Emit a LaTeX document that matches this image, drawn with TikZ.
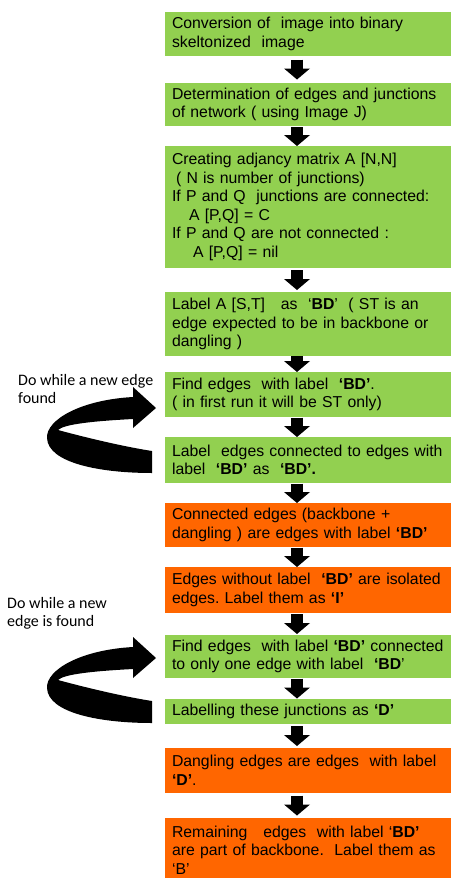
\documentclass[tikz,border=0pt]{standalone}
\usepackage{fontspec}
\setmainfont{Liberation Sans}
\newfontfamily\calibrifont{Carlito}
\usetikzlibrary{arrows.meta}
\pgfdeclarelayer{background}
\pgfsetlayers{background,main}
\definecolor{boxgreen}{HTML}{92D050}
\definecolor{boxorange}{HTML}{FF6600}
\frenchspacing
\tikzset{
  flowbox/.style={draw=none, rectangle, anchor=north west, inner xsep=7pt, inner ysep=0pt, outer sep=0pt,
    minimum width=286pt, text width=272pt, align=left,
    font=\fontsize{15.8pt}{18.6pt}\selectfont},
  greenbox/.style={flowbox, fill=boxgreen},
  orangebox/.style={flowbox, fill=boxorange},
  flowarrow/.style={draw=black, line width=12pt, -{Triangle[length=11pt,width=26pt,line width=0pt]}},
  looplabel/.style={anchor=north west, inner sep=0pt, align=left,
    font=\calibrifont\fontsize{16pt}{18.5pt}\selectfont},
  ribbon/.pic={
    \fill[black] (152,473) .. controls (100,473) and (48,463) .. (47,438)
      .. controls (46,420) and (80,400) .. (133,397)
      -- (133,387) -- (156,408) -- (133,428) -- (133,419)
      .. controls (95,421) and (64,424) .. (58,430)
      .. controls (80,436) and (120,446) .. (152,451) -- cycle;
  }
}
\begin{document}
\begin{tikzpicture}[x=1pt,y=-1pt]
\useasboundingbox (0,0) rectangle (452,878);

\node[greenbox, minimum height=44pt] (b1) at (165,12)
  {Conversion of \ image into binary\\skeltonized \ image};
\node[greenbox, minimum height=43pt] (b2) at (165,83)
  {Determination of edges and junctions\\of network ( using Image J)};
\node[greenbox, minimum height=122pt] (b3) at (165,146)
  {Creating adjancy matrix A [N,N]\\
   \hspace*{4pt}( N is number of junctions)\\
   If P and Q \ junctions are connected:\\
   \hspace*{17pt}A [P,Q] = C\\
   If P and Q are not connected :\\
   \hspace*{21pt}A [P,Q] = nil};
\node[greenbox, minimum height=64pt] (b4) at (165,292)
  {Label A [S,T] \ \ as \ ‘\textbf{BD}’ \ ( ST is an\\edge expected to be in backbone or\\dangling )};
\node[greenbox, minimum height=45pt] (b5) at (165,372)
  {Find edges \ with label \ \textbf{‘BD’}.\\( in first run it will be ST only)};
\node[greenbox, minimum height=46pt] (b6) at (165,437)
  {Label \ edges connected to edges with\\label \ \textbf{‘BD’} as \ \textbf{‘BD’.}};
\node[orangebox, minimum height=44pt] (b7) at (165,503)
  {Connected edges (backbone +\\dangling ) are edges with label \textbf{‘BD’}};
\node[orangebox, minimum height=46pt] (b8) at (165,567)
  {Edges without label \ \textbf{‘BD’} are isolated\\edges. Label them as \textbf{‘I’}};
\node[greenbox, minimum height=43pt] (b9) at (165,635)
  {Find edges \ with label \textbf{‘BD’} connected\\to only one edge with label \ \textbf{‘BD}’};
\node[greenbox, minimum height=25pt] (b10) at (165,699)
  {Labelling these junctions as \textbf{‘D’}};
\node[orangebox, minimum height=45pt] (b11) at (165,748)
  {Dangling edges are edges \ with label\\\textbf{‘D’}.};
\node[orangebox, minimum height=64pt] (b12) at (165,818)
  {Remaining \ \ edges \ with label ‘\textbf{BD’}\\are part of backbone. \ Label them as\\‘B’};

\begin{pgfonlayer}{background}
\draw[flowarrow, shorten <=3.5pt, shorten >=3.5pt] ([xshift=-11pt]b1.south) -- ([xshift=-11pt]b2.north);
\draw[flowarrow, shorten <=1pt, shorten >=0pt] ([xshift=-11pt]b2.south) -- ([xshift=-11pt]b3.north);
\draw[flowarrow, shorten <=2pt, shorten >=2pt] ([xshift=-11pt]b3.south) -- ([xshift=-11pt]b4.north);
\draw[flowarrow, shorten <=0pt, shorten >=0pt] ([xshift=-11pt]b4.south) -- ([xshift=-11pt]b5.north);
\draw[flowarrow, shorten <=0.5pt, shorten >=0pt] ([xshift=-11pt]b5.south) -- ([xshift=-11pt]b6.north);
\draw[flowarrow, shorten <=0.5pt, shorten >=0pt] ([xshift=-11pt]b6.south) -- ([xshift=-11pt]b7.north);
\draw[flowarrow, shorten <=0.5pt, shorten >=0pt] ([xshift=-11pt]b7.south) -- ([xshift=-11pt]b8.north);
\draw[flowarrow, shorten <=1pt, shorten >=1pt] ([xshift=-11pt]b8.south) -- ([xshift=-11pt]b9.north);
\draw[flowarrow, shorten <=0.5pt, shorten >=0.5pt] ([xshift=-11pt]b9.south) -- ([xshift=-11pt]b10.north);
\draw[flowarrow, shorten <=2pt, shorten >=2pt] ([xshift=-11pt]b10.south) -- ([xshift=-11pt]b11.north);
\draw[flowarrow, shorten <=2.5pt, shorten >=2.5pt] ([xshift=-11pt]b11.south) -- ([xshift=-11pt]b12.north);
\end{pgfonlayer}

\node[looplabel] (l1) at (18,374) {Do while a new edge\\found};
\node[looplabel] (l2) at (7,597) {Do while a new\\edge is found};

\pic at (0,0) {ribbon};
\pic at (0,250) {ribbon};
\end{tikzpicture}
\end{document}
